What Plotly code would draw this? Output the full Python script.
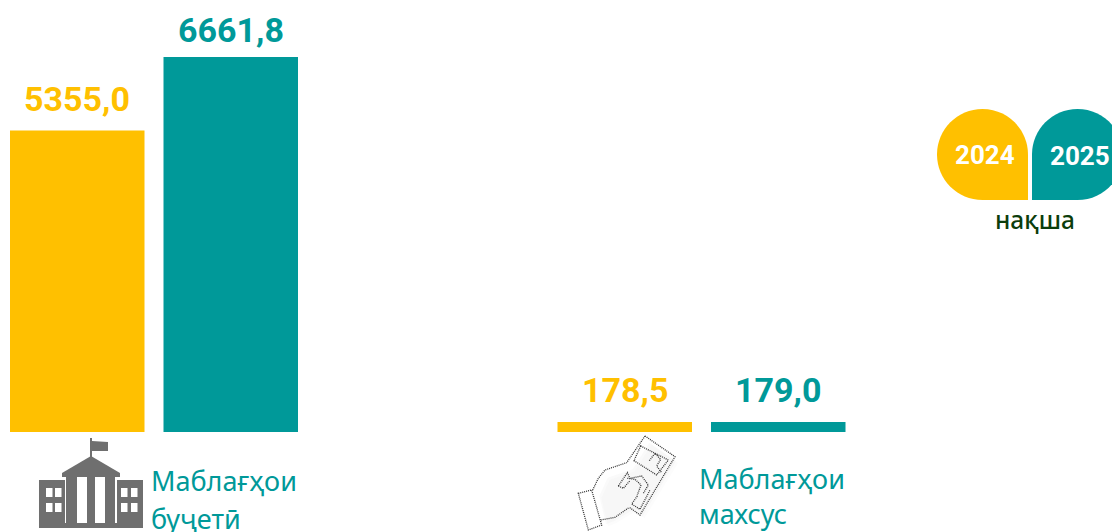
import plotly.graph_objects as go

W, H = 1112, 532
BASE_PX, TOP_PX, TOP_VAL = 432, 57, 6661.8

categories = ["Маблағҳои буҷетӣ", "Маблағҳои махсус"]
series_names = ["2024", "2025"]
values_2024 = [5355.0, 178.5]
values_2025 = [6661.8, 179.0]
labels_2024 = ["5355,0", "178,5"]
labels_2025 = ["6661,8", "179,0"]
label_lift_2024 = [32, 32]
label_lift_2025 = [27, 32]
legend_caption = "нақша"

YELLOW, TEAL, GREY = "#FFC000", "#009999", "#6F6F6F"
NUM_FONT = "Roboto"
TXT_FONT = "Noto Sans"


def px(x): return x / W
def py(y): return 1 - y / H


def path(points, close=True):
    s = "M" + " L".join(f"{px(x):.5f},{py(y):.5f}" for x, y in points)
    return s + (" Z" if close else "")


def shape(d, fill=None, line=None, width=0, dash="solid", opacity=1):
    return dict(type="path", xref="paper", yref="paper", path=d,
                fillcolor=fill or "rgba(0,0,0,0)",
                line=dict(color=line or "rgba(0,0,0,0)", width=width, dash=dash),
                opacity=opacity, layer="above")


def rect(x0, y0, x1, y1, fill):
    return shape(path([(x0, y0), (x1, y0), (x1, y1), (x0, y1)]), fill=fill)


def blob(x0, y0, x1, y1, fill, square):
    r = (y1 - y0) / 2
    k = 0.5523 * r
    def P(x, y): return f"{px(x):.5f},{py(y):.5f}"
    cx, cy = x0 + r, y0 + r
    d = "M" + P(cx, y0)
    d += " C" + P(cx + k, y0) + " " + P(cx + r, cy - k) + " " + P(cx + r, cy)
    if square == "br":
        d += " L" + P(cx + r, y1) + " L" + P(cx, y1)
    else:
        d += " C" + P(cx + r, cy + k) + " " + P(cx + k, y1) + " " + P(cx, y1)
    if square == "bl":
        d += " L" + P(x0, y1) + " L" + P(x0, cy)
    else:
        d += " C" + P(cx - k, y1) + " " + P(x0, cy + k) + " " + P(x0, cy)
    d += " C" + P(x0, cy - k) + " " + P(cx - k, y0) + " " + P(cx, y0) + " Z"
    return shape(d, fill=fill)


shapes = []
# legend drops
shapes.append(blob(937, 109, 1028, 200, YELLOW, "br"))
shapes.append(blob(1032, 109, 1123, 200, TEAL, "bl"))

# building icon
shapes.append(rect(90, 438, 92, 458, GREY))
shapes.append(shape(path([(92, 441), (108, 442), (108, 451), (92, 451)]), fill=GREY))
shapes.append(shape(path([(91, 456), (120, 473), (120, 477), (62, 477), (62, 473)]), fill=GREY))
shapes.append(rect(39, 480, 65, 528, GREY))
shapes.append(rect(117, 480, 143, 528, GREY))
shapes.append(rect(66, 477, 77, 524, GREY))
shapes.append(rect(87, 477, 95, 524, GREY))
shapes.append(rect(105, 477, 115, 524, GREY))
shapes.append(rect(63, 523, 118, 528, GREY))
for wx in (46, 55, 121, 131):
    for wy in (488, 503):
        shapes.append(rect(wx, wy, wx + 6.5, wy + 9, "#FFFFFF"))


# hand icon, traced on a 3x crop whose origin is (540, 410)
def z(pts): return [(540 + a / 3, 410 + b / 3) for a, b in pts]


DOT = dict(line="#333333", width=1.3, dash="1px,1px")
for off, alpha in ((14, 0.02), (8, 0.03)):
    shapes.append(shape(path(z([(270 + off, 170 + off), (320 + off, 90 + off), (400 + off, 145 + off),
                                (300 + off, 310 + off), (265 + off, 295 + off), (215 + off, 325 + off),
                                (190 + off, 335 + off), (170 + off, 250 + off), (195 + off, 195 + off)])),
                        fill=f"rgba(90,90,90,{alpha})"))
hand_lines = [
    ([(115, 250), (155, 240), (185, 345), (145, 360)], True),
    ([(315, 78), (405, 140), (300, 315), (268, 292)], False),
    ([(315, 78), (260, 158)], False),
    ([(302, 108), (385, 150), (350, 195), (282, 152)], True),
    ([(328, 152), (345, 130), (362, 148), (350, 168), (365, 188)], False),
    ([(158, 240), (175, 205), (195, 180), (260, 158)], False),
    ([(182, 330), (225, 322), (268, 292)], False),
    ([(235, 228), (262, 188), (270, 205), (305, 198), (325, 225), (310, 250)], False),
    ([(262, 205), (285, 208), (303, 225), (292, 255)], False),
    ([(235, 228), (250, 235), (270, 212)], False),
    ([(292, 258), (275, 282), (300, 298), (330, 240)], False),
]
for pts, closed in hand_lines:
    shapes.append(shape(path(z(pts), closed), **DOT))

annotations = []


def text(s, x, y, size, color, font=TXT_FONT, weight=400, anchor="left"):
    annotations.append(dict(text=s, xref="paper", yref="paper",
                            x=px(x), y=py(y), xanchor=anchor, yanchor="middle", showarrow=False,
                            font=dict(family=font, size=size, color=color, weight=weight)))


text(categories[0].split()[0], 149, 480, 27, TEAL)
text(categories[0].split()[1], 149, 518, 27, TEAL)
text(categories[1].split()[0], 697, 478, 27, TEAL)
text(categories[1].split()[1], 697, 513, 27, TEAL)
text(series_names[0], 984.5, 155, 26, "#FFFFFF", NUM_FONT, 700, "center")
text(series_names[1], 1080, 156, 26, "#FFFFFF", NUM_FONT, 700, "center")
text(legend_caption, 1034.5, 220, 24.5, "#0B3D0B", TXT_FONT, 500, "center")

period = 547.5
slot = 153.5

fig = go.Figure()
for sign, name, vals, labels, lifts, color in [
    (-1, series_names[0], values_2024, labels_2024, label_lift_2024, YELLOW),
    (1, series_names[1], values_2025, labels_2025, label_lift_2025, TEAL),
]:
    fig.add_bar(x=categories, y=vals, name=name, marker=dict(color=color, line=dict(width=0)))
    for cat, v, lab, lift in zip(categories, vals, labels, lifts):
        annotations.append(dict(text=lab, x=cat, y=v, xref="x", yref="y", showarrow=False,
                                xanchor="center", yanchor="middle",
                                xshift=sign * slot / 2, yshift=lift,
                                font=dict(family=NUM_FONT, size=34, color=color, weight=700)))

scale = (BASE_PX - TOP_PX) / TOP_VAL
fig.update_layout(
    width=W, height=H, margin=dict(l=0, r=0, t=0, b=0),
    paper_bgcolor="white", plot_bgcolor="white", showlegend=False,
    barmode="group", bargap=1 - 2 * slot / period, bargroupgap=19 / slot,
    shapes=shapes, annotations=annotations,
    xaxis=dict(visible=False, type="category", range=[-154 / period, (W - 154) / period]),
    yaxis=dict(visible=False, domain=[1 - BASE_PX / H, 1], range=[0, BASE_PX / scale]),
)
fig.write_html("out.html", config=dict(displayModeBar=False),
               post_script="document.body.style.margin='0';document.body.style.overflow='hidden';")
